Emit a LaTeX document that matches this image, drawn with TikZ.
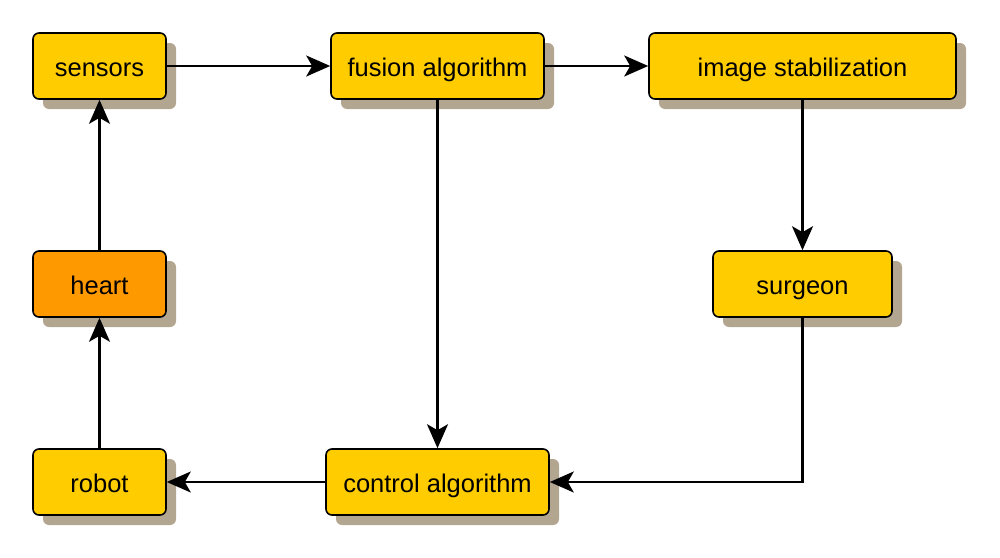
\documentclass[tikz,border=0pt]{standalone}
\usepackage{fontspec}
\setmainfont{Liberation Sans}
\usetikzlibrary{arrows.meta,shadows}
\definecolor{yel}{HTML}{FFCC00}
\definecolor{org}{HTML}{FF9900}
\definecolor{shd}{RGB}{179,166,145}
\tikzset{
  box/.style={rectangle, draw=black, fill=yel, rounded corners=6pt, line width=1.6pt,
    minimum height=66pt, inner sep=0pt, text height=24pt, text depth=4pt,
    font=\fontsize{25.5}{30}\selectfont,
    general shadow={fill=shd, shadow xshift=10pt, shadow yshift=-10pt}},
  conn/.style={line width=2.2pt, -{Stealth[length=24pt,width=21pt,inset=6pt]}}
}
\begin{document}
\begin{tikzpicture}[x=1pt,y=-1pt]
\useasboundingbox (0,0) rectangle (1000,557);
\node[box, minimum width=133pt] (sensors) at (99.5,66) {sensors};
\node[box, minimum width=213pt] (fusion) at (437.5,66) {fusion algorithm};
\node[box, minimum width=307pt] (stab) at (802.5,66) {image stabilization};
\node[box, minimum width=133pt, fill=org] (heart) at (99.5,284) {heart};
\node[box, minimum width=179pt] (surgeon) at (802.5,284) {surgeon};
\node[box, minimum width=133pt] (robot) at (99.5,482) {robot};
\node[box, minimum width=223pt] (control) at (437.5,482) {control algorithm};
\draw[conn] (sensors) -- (fusion);
\draw[conn] (fusion) -- (stab);
\draw[conn] (stab) -- (surgeon);
\draw[conn] (fusion) -- (control);
\draw[conn] (surgeon.south) |- (control.east);
\draw[conn] (control) -- (robot);
\draw[conn] (robot) -- (heart);
\draw[conn] (heart) -- (sensors);
\end{tikzpicture}
\end{document}
